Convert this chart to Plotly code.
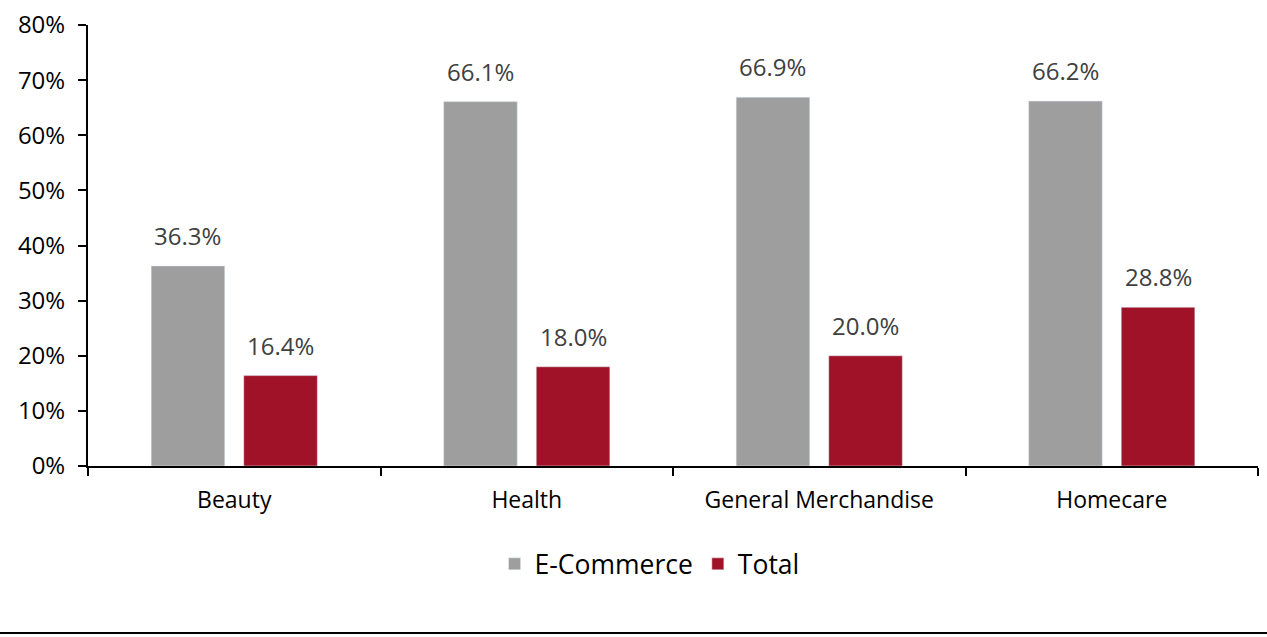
import plotly.graph_objects as go

categories = ["Beauty", "Health", "General Merchandise", "Homecare"]
ecommerce = [36.3, 66.1, 66.9, 66.2]
total = [16.4, 18.0, 20.0, 28.8]
y_ticks = [0, 10, 20, 30, 40, 50, 60, 70, 80]
y_tick_labels = [f"{v}%" for v in y_ticks]

FONT = "Open Sans, sans-serif"
W, H = 1267, 637
ML, MR, MT, MB = 88, 9, 25, 171

fig = go.Figure()
fig.add_trace(go.Bar(name="E-Commerce", x=categories, y=ecommerce, marker_color="#9E9E9E"))
fig.add_trace(go.Bar(name="Total", x=categories, y=total, marker_color="#A01228"))

plot_w = W - ML - MR
slot = plot_w / len(categories) * (1 - 0.367) / 2
for vals, shift in ((ecommerce, -slot / 2), (total, slot / 2)):
    for c, v in zip(categories, vals):
        fig.add_annotation(x=c, y=v, xref="x", yref="y", text=f"{v:.1f}%", showarrow=False,
                           xshift=shift, yshift=12, yanchor="bottom",
                           font=dict(family=FONT, size=24, color="#404040"))

fig.add_shape(type="line", xref="paper", yref="paper",
              x0=-ML / plot_w, x1=(W - ML) / plot_w,
              y0=-(633 - (H - MB)) / (H - MT - MB), y1=-(633 - (H - MB)) / (H - MT - MB),
              line=dict(color="black", width=2))

fig.update_layout(
    width=W, height=H,
    margin=dict(l=ML, r=MR, t=MT, b=MB, autoexpand=False),
    paper_bgcolor="white", plot_bgcolor="white",
    barmode="group", bargap=0.367, bargroupgap=0.205,
    font=dict(family=FONT, size=23, color="black"),
    showlegend=True,
    legend=dict(orientation="h", x=0.48, xanchor="center", y=-0.168, yanchor="top",
                font=dict(family=FONT, size=26.5, color="black"), traceorder="normal",
                itemwidth=30),
)
fig.update_xaxes(showline=True, linecolor="black", linewidth=2, ticks="outside",
                 tickson="boundaries", ticklen=8, tickcolor="black", tickwidth=2,
                 showgrid=False, tickfont=dict(size=23), ticklabelstandoff=12,
                 automargin=False)
fig.update_yaxes(range=[0, 80], tickvals=y_ticks, ticktext=y_tick_labels,
                 showline=True, linecolor="black", linewidth=2, ticks="outside",
                 ticklen=8, tickcolor="black", tickwidth=2, showgrid=False,
                 zeroline=False, tickfont=dict(size=24), ticklabelstandoff=8,
                 automargin=False)

fig.write_html("out.html")
